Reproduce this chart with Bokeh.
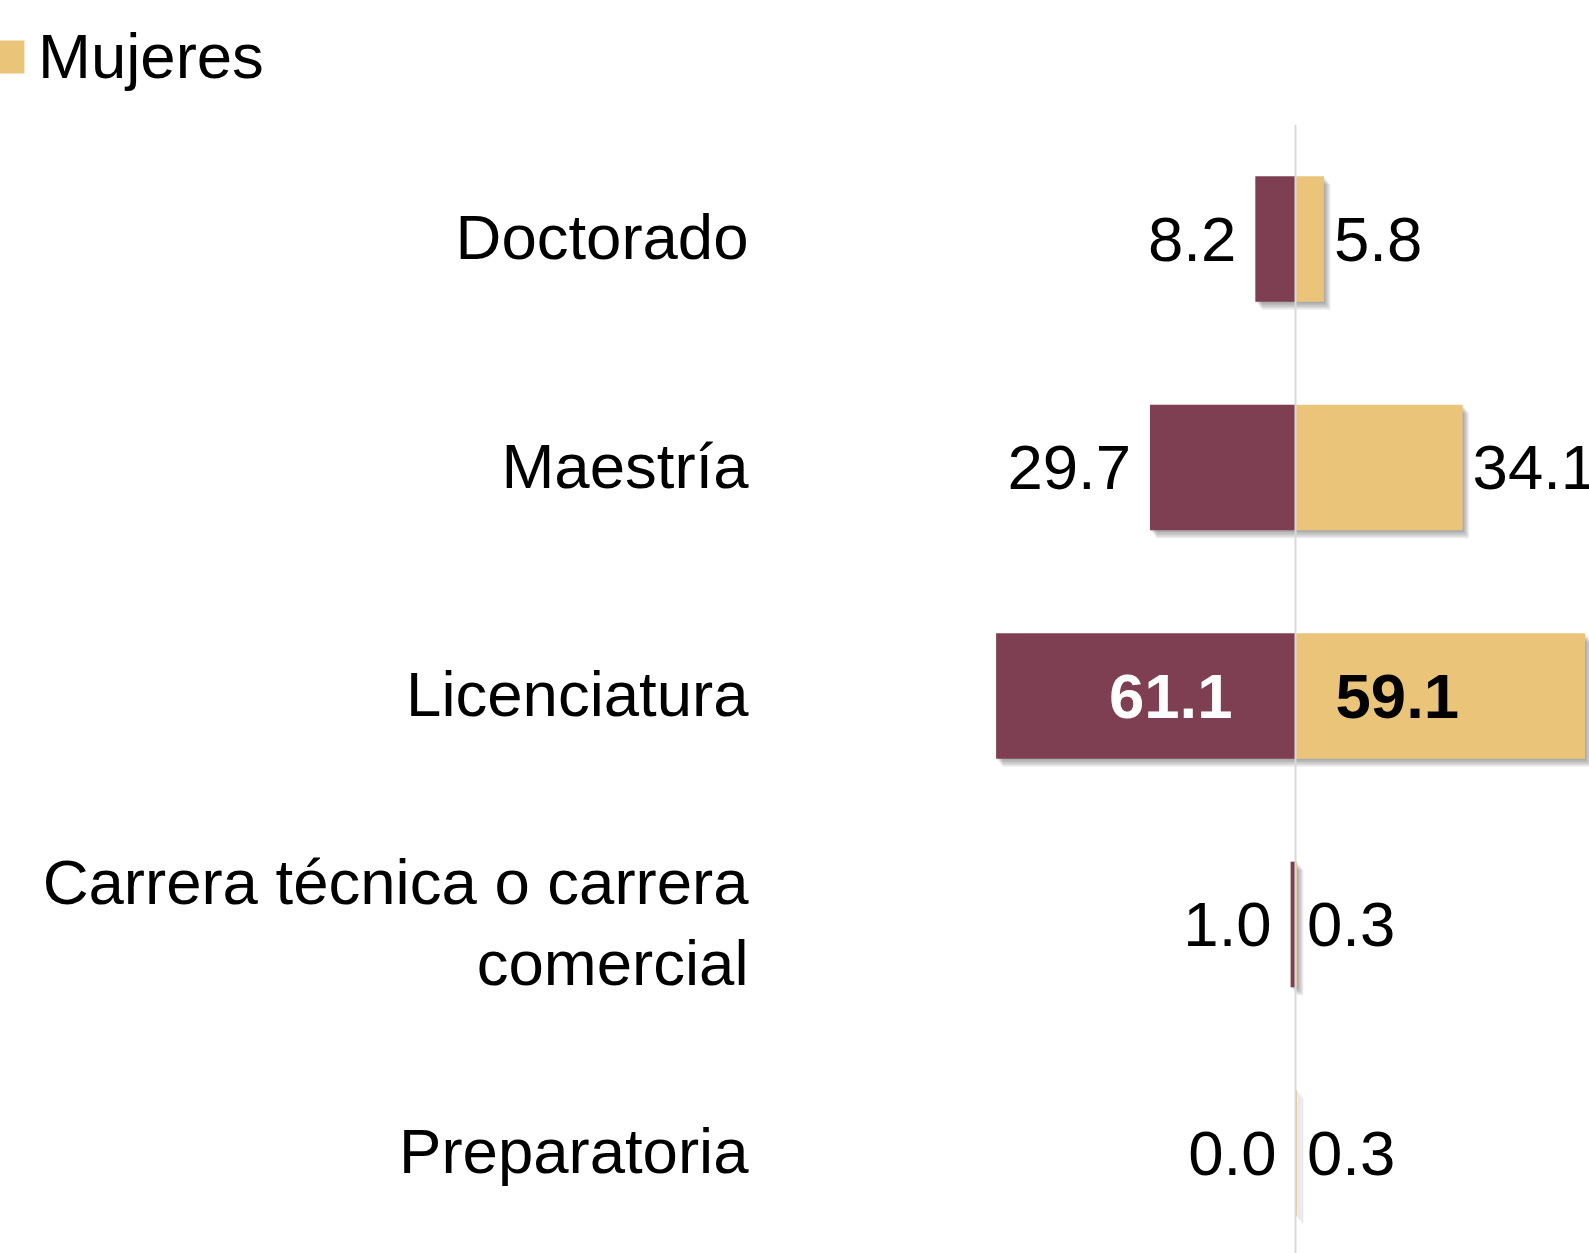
from bokeh.plotting import figure
from bokeh.models import Range1d, Legend, LegendItem, ColumnDataSource
from bokeh.core.properties import value
from bokeh.embed import file_html
from bokeh.resources import INLINE

# ---- data ----
categories = ["Doctorado", "Maestría", "Licenciatura",
              "Carrera técnica o carrera\ncomercial", "Preparatoria"]
hombres = [8.2, 29.7, 61.1, 1.0, 0.0]
mujeres = [5.8, 34.1, 59.1, 0.3, 0.3]
series_names = ["Hombres", "Mujeres"]

# ---- style / layout ----
MAROON = "#7E3F52"
GOLD = "#E9C479"
FONT = "Liberation Sans"
FS = "63.5px"
W, H = 1589, 1253
PX_PER_UNIT = 4.9
ROW_PX = 228.5
CENTER_PX = 1295
FIRST_ROW_PX = 238.5
BAR_H = 0.55

x_start = -CENTER_PX / PX_PER_UNIT
x_end = x_start + W / PX_PER_UNIT
y_top = -FIRST_ROW_PX / ROW_PX
y_bot = y_top + H / ROW_PX


def px_to_x(px):
    return x_start + px / PX_PER_UNIT


ys = list(range(len(categories)))

p = figure(width=W, height=H, x_range=Range1d(x_start, x_end),
           y_range=Range1d(y_bot, y_top), output_backend="svg",
           toolbar_location=None, min_border=0)
p.axis.visible = False
p.grid.visible = False
p.outline_line_color = None
p.background_fill_color = "white"

# soft drop shadows (several translucent layers approximate a blur)
for k in range(1, 6):
    dx = 1.3 * k / PX_PER_UNIT
    dy = 1.6 * k / ROW_PX
    a = 0.075
    p.hbar(y=[y + dy for y in ys], left=[-h + dx for h in hombres],
           right=[dx if h > 0 else -h + dx for h in hombres], height=BAR_H,
           fill_color="black", fill_alpha=a, line_color=None)
    p.hbar(y=[y + dy for y in ys], left=[dx] * len(ys),
           right=[m + dx for m in mujeres], height=BAR_H,
           fill_color="black", fill_alpha=a, line_color=None)

r_h = p.hbar(y=ys, left=[-h for h in hombres], right=0, height=BAR_H,
             fill_color=MAROON, line_color=None)
r_m = p.hbar(y=ys, left=0, right=mujeres, height=BAR_H,
             fill_color=GOLD, line_color=None)

# center axis line
p.segment(x0=[0], y0=[-0.5], x1=[0], y1=[len(categories) - 0.5],
          line_color="#D9D9D9", line_width=2)

# category labels
cat_src = ColumnDataSource(dict(x=[px_to_x(748)] * len(ys),
                                y=[y - 2.0 / ROW_PX for y in ys], t=categories))
p.text(x="x", y="y", text="t", source=cat_src, text_align="right",
       text_baseline="middle", text_font=value(FONT), text_font_size=FS,
       text_color="black", text_line_height=1.16)

# value labels
INSIDE = 50
lo = dict(x=[], y=[], t=[])
li = dict(x=[], y=[], t=[])
ro = dict(x=[], y=[], t=[])
ri = dict(x=[], y=[], t=[])
for y, h, m in zip(ys, hombres, mujeres):
    d = li if h >= INSIDE else lo
    d["x"].append(0 if h >= INSIDE else -h)
    d["y"].append(y)
    d["t"].append(f"{h:.1f}")
    d = ri if m >= INSIDE else ro
    d["x"].append(0 if m >= INSIDE else m)
    d["y"].append(y)
    d["t"].append(f"{m:.1f}")

p.text(x="x", y="y", text="t", source=ColumnDataSource(lo), x_offset=-19,
       text_align="right", text_baseline="middle", text_font=value(FONT),
       text_font_size=FS, text_color="black")
p.text(x="x", y="y", text="t", source=ColumnDataSource(ro), x_offset=10,
       text_align="left", text_baseline="middle", text_font=value(FONT),
       text_font_size=FS, text_color="black")
p.text(x="x", y="y", text="t", source=ColumnDataSource(li), x_offset=-63,
       text_align="right", text_baseline="middle", text_font=value(FONT),
       text_font_size=FS, text_color="white", text_font_style="bold")
p.text(x="x", y="y", text="t", source=ColumnDataSource(ri), x_offset=40,
       text_align="left", text_baseline="middle", text_font=value(FONT),
       text_font_size=FS, text_color="black", text_font_style="bold")

# legend (only the "Mujeres" entry is in view)
leg = Legend(items=[LegendItem(label=series_names[1], renderers=[r_m])],
             location=(-13, 1161), glyph_width=41, glyph_height=41,
             label_standoff=10, padding=0, margin=0, spacing=0,
             border_line_color=None, background_fill_alpha=0,
             label_text_font=FONT, label_text_font_size=FS,
             label_text_color="black", label_text_baseline="middle")
p.add_layout(leg)

open("out.html", "w").write(file_html(p, INLINE))
